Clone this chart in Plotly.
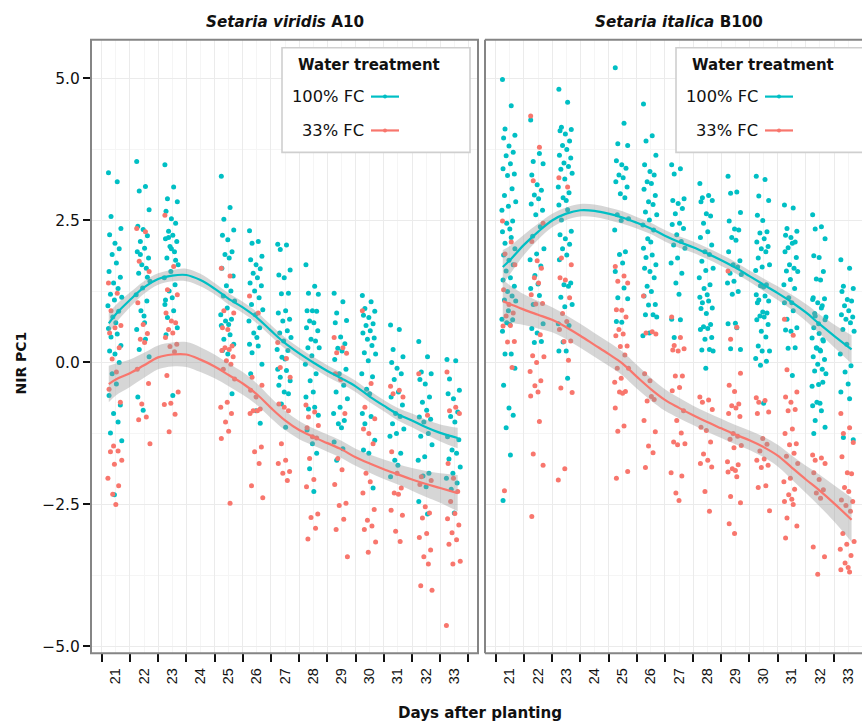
import plotly.graph_objects as go

# ---------------- data ----------------
DAYS = [21, 22, 23, 25, 26, 27, 28, 29, 30, 31, 32, 33]
TICK_DAYS = list(range(21, 35))
TICK_TEXT = [str(d) for d in range(21, 34)] + [""]
Y_TICKS = [-5.0, -2.5, 0.0, 2.5, 5.0]
Y_TICK_TEXT = ["\u22125.0", "\u22122.5", "0.0", "2.5", "5.0"]
# time-of-day fraction at which each plant was imaged (cycled through per day)
IMG_FRAC = [0.24, 0.55, 0.33, 0.68, 0.28, 0.47, 0.62, 0.37, 0.52, 0.26,
            0.66, 0.42, 0.58, 0.31, 0.71, 0.45, 0.22, 0.60, 0.39, 0.50]

# Setaria viridis A10, 100% FC (one list per day in DAYS)
VIR_100 = [
    [3.34, 3.18, 2.57, 2.36, 2.25, 2.1, 2.0, 1.9, 1.75, 1.6, 1.5, 1.4, 1.3, 1.2, 1.15, 1.1, 1.0, 0.9,
     0.8, 0.7, 0.6, 0.5, 0.45, 0.3, 0.2, 0.15, 0.0, -0.2, -0.38, -0.58, -0.75, -0.9, -1.05, -1.24, -1.38, -2.33],
    [3.54, 3.1, 3.02, 2.69, 2.40, 2.34, 2.23, 2.13, 2.01, 1.95, 1.84, 1.72, 1.66, 1.57, 1.43, 1.31, 1.19,
     1.08, 0.91, 0.82, 0.58, 0.41, 0.23, 0.1, -0.61, -0.84, 1.5, 1.9, 0.7],
    [3.48, 3.09, 2.88, 2.83, 2.66, 2.53, 2.45, 2.31, 2.24, 2.18, 2.13, 2.04, 1.95, 1.84, 1.72, 1.6, 1.49,
     1.37, 1.26, 1.14, 1.02, 0.91, 0.79, 0.61, 0.49, 2.0, 1.8, 2.2, -0.58, 1.1],
    [3.28, 2.73, 2.52, 2.33, 2.24, 2.16, 1.95, 1.9, 1.84, 1.66, 1.52, 1.35, 1.26, 1.17, 1.08, 0.96, 0.84,
     0.76, 0.73, 0.67, 0.65, 0.49, 0.41, 0.32, 0.21, 0.15, -0.55],
    [2.32, 2.13, 2.1, 1.87, 1.81, 1.72, 1.65, 1.57, 1.49, 1.40, 1.35, 1.26, 1.14, 1.02, 0.93, 0.84, 0.73,
     0.61, 0.52, 0.44, 0.32, 0.29, 0.17, -0.03, -0.2, -0.85, -1.07],
    [2.08, 2.07, 1.99, 1.63, 1.54, 1.49, 1.22, 1.21, 0.91, 0.87, 0.76, 0.73, 0.56, 0.52, 0.44, 0.38, 0.23,
     0.21, 0.09, 0.06, -0.12, -0.14, -0.26, -0.32, -0.4, -0.52, -0.55, -0.73, -1.14],
    [1.72, 1.34, 1.22, 1.2, 0.91, 0.91, 0.9, 0.73, 0.70, 0.61, 0.56, 0.41, 0.38, 0.26, 0.26, 0.12, -0.03,
     -0.2, -0.32, -0.52, -0.61, -0.79, -0.82, -0.93, -1.19, -1.43, -1.6, -1.87, -2.27],
    [1.22, 1.07, 0.87, 0.74, 0.70, 0.45, 0.33, 0.25, 0.2, 0.05, -0.12, -0.2, -0.4, -0.52, -0.64, -0.79,
     -0.9, -1.02, -1.08, -1.15, -1.4, -1.52, -1.72],
    [1.18, 1.07, 0.95, 0.9, 0.83, 0.79, 0.68, 0.65, 0.56, 0.52, 0.43, 0.41, 0.3, 0.17, 0.15, 0.03, -0.2,
     -0.25, -0.47, -0.55, -0.9, -0.95, -1.08, -1.37, -1.54, -1.6, -2.21],
    [0.66, 0.58, 0.23, 0.1, 0.0, -0.1, -0.2, -0.3, -0.52, -0.61, -0.75, -0.9, -0.95, -1.08, -1.17, -1.25,
     -1.3, -1.6, -1.72, -1.81, -2.01],
    [0.37, 0.1, -0.17, -0.2, -0.3, -0.38, -0.61, -0.7, -0.84, -0.96, -1.0, -1.05, -1.25, -1.3, -1.45,
     -1.66, -1.72, -1.95, -2.0, -2.19, -2.45, -2.67],
    [0.05, 0.03, -0.29, -0.49, -0.55, -0.64, -0.87, -0.95, -1.05, -1.31, -1.36, -1.54, -1.6, -1.7, -1.84,
     -1.95, -2.04, -2.12, -2.23, -2.65],
]
# Setaria viridis A10, 33% FC
VIR_33 = [
    [1.40, 1.22, 0.91, 0.65, 0.52, 0.61, 0.26, 0.06, -0.17, -0.47, -0.70, -1.47, -1.56, -1.57, -1.72,
     -1.79, -2.04, -2.17, -2.32, -2.5],
    [2.36, 2.3, 1.78, 1.6, 1.05, 0.67, 0.51, 0.41, 0.35, -0.12, -0.37, -0.73, -0.96, -1.01, -1.43],
    [2.59, 1.69, 1.28, 1.19, 0.87, 0.73, 0.70, 0.58, 0.52, 0.44, 0.32, 0.28, 0.19, -0.23, -0.52, -0.72,
     -0.74, -0.91, -1.22],
    [1.66, 1.52, 0.91, 0.87, 0.61, 0.58, 0.29, 0.26, 0.23, 0.21, 0.1, 0.03, -0.03, -0.12, -0.29, -0.70,
     -0.79, -0.90, -1.05, -1.21, -1.34, -2.48],
    [1.17, 0.87, -0.26, -0.40, -0.49, -0.61, -0.82, -0.85, -0.85, -0.9, -1.49, -1.57, -1.78, -2.17, -2.38],
    [0.35, 0.07, -0.09, -0.26, -0.73, -0.79, -0.85, -1.43, -1.72, -1.78, -1.92, -1.95, -2.08],
    [-0.75, -0.87, -0.96, -1.11, -1.15, -1.31, -1.33, -1.69, -2.06, -2.19, -2.67, -2.73, -2.92, -3.11],
    [0.44, 0.26, 0.17, 0.16, -0.2, -0.3, -0.9, -1.69, -1.89, -2.15, -2.48, -2.52, -2.76, -2.94, -3.42],
    [0.91, -0.37, -0.79, -0.99, -1.17, -1.25, -1.43, -1.95, -2.1, -2.3, -2.59, -2.78, -2.88, -2.94, -3.16, -3.34],
    [-0.42, -0.49, -0.55, -0.61, -1.57, -1.95, -2.21, -2.3, -2.32, -2.6, -2.69, -2.97, -3.15],
    [-0.2, -0.93, -2.01, -2.08, -2.15, -2.54, -2.65, -2.74, -3.01, -3.08, -3.3, -3.42, -3.55, -3.93, -4.01],
    [-0.17, -0.79, -0.85, -0.9, -1.78, -2.04, -2.27, -2.45, -2.66, -2.75, -2.86, -3.0, -3.12, -3.2, -3.5,
     -3.55, -4.63],
]
# Setaria italica B100, 100% FC
ITA_100 = [
    [4.98, 4.52, 4.11, 4.0, 3.95, 3.81, 3.7, 3.64, 3.5, 3.41, 3.32, 3.29, 3.06, 2.94, 2.83, 2.75, 2.68,
     2.49, 2.45, 2.35, 2.3, 2.2, 2.1, 2.0, 1.89, 1.8, 1.72, 1.61, 1.49, 1.45, 1.34, 1.25, 1.17, 1.1, 1.08,
     0.91, 0.76, 0.75, 0.7, 0.67, 0.55, 0.15, 0.15, -0.1, -0.4, -0.8, -0.93, -1.15, -1.63, -2.43],
    [4.27, 3.68, 3.54, 3.5, 3.3, 3.13, 3.03, 2.95, 2.88, 2.79, 2.68, 2.6, 2.39, 2.22, 2.0, 1.91, 1.81, 1.7,
     1.53, 1.38, 1.3, 1.18, 1.02, 0.68, 0.6, 0.52, 0.37, 0.35],
    [4.81, 4.58, 4.14, 4.1, 4.08, 4.02, 3.9, 3.82, 3.75, 3.65, 3.6, 3.51, 3.45, 3.4, 3.33, 3.23, 3.09, 2.99,
     2.9, 2.85, 2.77, 2.69, 2.51, 2.31, 2.25, 2.18, 2.08, 2.0, 1.89, 1.81, 1.4, 1.37, 1.34, 1.15, 1.02,
     0.98, 0.68, 0.65, 0.36, 0.2, 0.2, -0.28],
    [5.19, 4.21, 3.85, 3.82, 3.55, 3.48, 3.42, 3.3, 3.25, 3.18, 3.09, 2.97, 2.9, 2.6, 2.53, 2.5, 2.33, 1.95,
     1.9, 1.75, 1.6, 1.31, 1.14, 1.12, 0.72, 0.71],
    [4.55, 3.99, 3.9, 3.65, 3.48, 3.36, 3.3, 3.18, 3.15, 3.05, 2.94, 2.83, 2.78, 2.65, 2.6, 2.51, 2.42, 2.33,
     2.18, 2.12, 2.01, 1.89, 1.85, 1.72, 1.66, 1.6, 1.49, 1.34, 1.25, 1.17, 1.02, 1.01, 0.84, 0.84, 0.8,
     0.52, 0.47],
    [3.48, 3.41, 3.32, 2.88, 2.85, 2.8, 2.71, 2.62, 2.45, 2.43, 2.36, 2.25, 2.13, 2.07, 2.01, 1.84, 1.75,
     1.57, 1.4, 1.2, 0.76, 0.75, 0.44],
    [3.15, 2.94, 2.9, 2.85, 2.83, 2.62, 2.58, 2.45, 2.3, 2.2, 2.07, 1.95, 1.9, 1.78, 1.66, 1.62, 1.49, 1.37,
     1.3, 1.19, 1.15, 1.08, 1.05, 0.96, 0.95, 0.86, 0.67, 0.63, 0.6, 0.58, 0.44, 0.41, 0.23, 0.22, 0.2, -0.1],
    [3.28, 3.0, 2.98, 2.64, 2.49, 2.35, 2.33, 2.2, 2.15, 1.95, 1.79, 1.72, 1.68, 1.57, 1.55, 1.43, 1.4,
     1.25, 1.2, 0.69, 0.68, 0.61, 0.24, 0.23],
    [3.28, 3.22, 2.93, 2.85, 2.59, 2.5, 2.3, 2.28, 2.18, 2.12, 2.04, 2.0, 1.95, 1.84, 1.72, 1.68, 1.62, 1.37,
     1.35, 1.33, 1.19, 1.17, 1.1, 1.08, 1.05, 0.89, 0.87, 0.82, 0.8, 0.75, 0.67, 0.55, 0.45, 0.29, 0.2, 0.2,
     0.07, 0.02, -0.05, -0.72],
    [2.77, 2.72, 2.36, 2.31, 2.24, 2.2, 2.12, 2.02, 2.1, 1.95, 1.85, 1.72, 1.66, 1.61, 1.6, 1.46, 1.37, 1.30,
     1.14, 1.05, 1.05, 0.91, 0.76, 0.61, 0.57, 0.55, 0.26, 0.25, -0.23],
    [2.6, 2.39, 2.35, 2.18, 1.88, 1.85, 1.6, 1.47, 1.45, 1.14, 1.12, 1.05, 1.0, 0.86, 0.8, 0.68, 0.43, 0.4,
     0.25, 0.22, 1.11, 0.96, 0.82, 0.75, 0.61, 0.51, 0.38, 0.26, 0.2, 0.1, 0.05, -0.03, -0.12, -0.15, -0.2,
     -0.39, -0.42, -0.35, -0.7, -0.72, -0.76, -0.85, -1.02, -1.14, -1.25],
    [1.81, 1.66, 1.34, 1.3, 1.25, 1.11, 1.08, 1.0, 0.91, 0.84, 0.8, 0.76, 0.70, 0.58, 0.55, 0.32, 0.15,
     -0.06, -0.17, -0.38, -0.52, -0.64, -1.32, -1.36],
]
# Setaria italica B100, 33% FC
ITA_33 = [
    [2.49, 2.12, 1.91, 1.72, 1.28, 1.02, 0.87, 0.82, 0.65, 0.64, 0.37, 0.36, -0.09, -2.26],
    [4.34, 3.79, 3.2, 2.45, 2.13, 1.79, 1.66, 1.49, 1.4, 1.19, 1.04, 1.03, 0.49, 0.12, 0.1, 0.0, -0.16,
     -0.32, -0.41, -0.52, -0.59, -1.04, -1.61, -1.81, -2.71],
    [3.25, 3.09, 1.84, 1.72, 1.49, 1.45, 1.14, 0.86, 0.72, 0.58, 0.38, 0.37, 0.04, -0.45, -0.53, -1.87, -2.07],
    [1.69, 1.52, 1.43, 1.4, 0.93, 0.92, 0.80, 0.58, 0.5, 0.47, 0.29, 0.28, 0.13, -0.1, -0.1, -0.28, -0.35,
     -0.51, -0.52, -0.54, -0.8, -1.12, -1.21, -1.92, -2.04],
    [1.17, 0.54, 0.52, 0.5, -0.2, -0.32, -0.65, -0.68, -0.6, -1.02, -1.22, -1.47, -1.59, -1.85],
    [0.8, 0.44, 0.3, 0.24, 0.22, 0.2, -0.24, -0.24, -0.44, -0.5, -0.85, -1.02, -1.24, -1.4, -1.43, -1.45,
     -1.94, -2.0, -2.3, -2.43],
    [-0.61, -0.66, -0.7, -0.83, -1.14, -1.2, -1.40, -1.61, -1.72, -1.78, -1.84, -2.27, -2.62],
    [1.61, 0.62, 0.41, -0.19, -0.4, -0.51, -0.73, -0.76, -0.8, -0.9, -0.95, -1.25, -1.3, -1.35, -1.46, -1.5,
     -1.75, -1.8, -1.87, -1.9, -1.93, -2.01, -2.36, -2.47, -2.84, -3.01],
    [-0.62, -0.67, -0.7, -0.87, -0.9, -1.34, -1.44, -1.56, -1.70, -1.72, -1.81, -1.85, -2.17, -2.2, -2.61],
    [0.76, 0.48, -0.13, -0.52, -0.61, -0.7, -0.83, -0.85, -1.17, -1.25, -1.43, -1.45, -1.6, -1.65, -1.78,
     -2.04, -2.10, -2.23, -2.33, -2.41, -2.45, -2.5, -2.74, -2.88, -3.09],
    [-1.63, -1.68, -1.72, -1.78, -1.94, -2.06, -2.24, -2.3, -2.39, -3.25, -3.42, -3.73],
    [-0.9, -1.15, -1.25, -1.41, -1.66, -1.94, -1.96, -2.2, -2.27, -2.42, -2.45, -2.52, -2.62, -3.01, -3.15,
     -3.2, -3.29, -3.4, -3.53, -3.61, -3.65, -3.69],
]

# loess fits (value and half-width of the confidence band)
SMOOTH_X = [21.25, 21.5, 22, 22.5, 23, 23.5, 24, 24.5, 25, 25.5, 26, 26.5, 27, 27.5, 28, 28.5,
            29, 29.5, 30, 30.5, 31, 31.5, 32, 32.5, 33, 33.62]
VIR_100_FIT = [0.69, 0.85, 1.10, 1.32, 1.47, 1.53, 1.54, 1.45, 1.30, 1.12, 0.97, 0.79, 0.56, 0.34, 0.16,
               0.0, -0.15, -0.28, -0.42, -0.60, -0.76, -0.91, -1.02, -1.14, -1.24, -1.33]
VIR_100_SE = [0.18, 0.16, 0.13, 0.11, 0.10, 0.10, 0.11, 0.11, 0.10, 0.10, 0.10, 0.10, 0.10, 0.10, 0.10,
              0.10, 0.10, 0.10, 0.10, 0.10, 0.10, 0.11, 0.12, 0.13, 0.15, 0.18]
VIR_33_FIT = [-0.38, -0.30, -0.19, -0.05, 0.09, 0.14, 0.14, 0.05, -0.07, -0.22, -0.37, -0.56, -0.80, -1.02,
              -1.19, -1.31, -1.42, -1.53, -1.67, -1.78, -1.88, -1.97, -2.06, -2.14, -2.21, -2.30]
VIR_33_SE = [0.32, 0.28, 0.24, 0.22, 0.21, 0.21, 0.22, 0.22, 0.21, 0.20, 0.20, 0.19, 0.18, 0.17, 0.16,
             0.15, 0.15, 0.15, 0.15, 0.16, 0.17, 0.18, 0.20, 0.23, 0.26, 0.32]
ITA_100_FIT = [1.68, 1.80, 2.07, 2.30, 2.50, 2.62, 2.68, 2.67, 2.62, 2.55, 2.46, 2.36, 2.23, 2.12, 2.03,
               1.92, 1.80, 1.67, 1.52, 1.37, 1.22, 1.06, 0.88, 0.67, 0.47, 0.23]
ITA_100_SE = [0.30, 0.25, 0.18, 0.14, 0.12, 0.11, 0.11, 0.11, 0.11, 0.11, 0.10, 0.10, 0.10, 0.10, 0.10,
              0.10, 0.10, 0.10, 0.10, 0.11, 0.12, 0.13, 0.15, 0.17, 0.20, 0.25]
ITA_33_FIT = [1.08, 1.03, 0.93, 0.84, 0.75, 0.62, 0.47, 0.31, 0.15, -0.02, -0.25, -0.47, -0.66, -0.80, -0.93,
              -1.05, -1.16, -1.27, -1.37, -1.49, -1.64, -1.85, -2.06, -2.26, -2.48, -2.77]
ITA_33_SE = [0.38, 0.33, 0.27, 0.24, 0.22, 0.21, 0.21, 0.21, 0.21, 0.21, 0.21, 0.20, 0.19, 0.18, 0.17,
             0.17, 0.17, 0.17, 0.17, 0.18, 0.19, 0.21, 0.24, 0.28, 0.32, 0.39]

PANELS = ["<b><i>Setaria viridis</i> A10</b>", "<b><i>Setaria italica</i> B100</b>"]
GROUPS = ["100% FC", "33% FC"]
COLORS = {"100% FC": "#00BFC4", "33% FC": "#F8766D"}

# ---------------- figure ----------------
W, H = 862, 726
FONT = "DejaVu Sans, Liberation Sans, Arial, sans-serif"
FONT_NARROW = "Liberation Sans, Arial, Helvetica, sans-serif"
PX = lambda x: x / W
PY = lambda y: 1 - y / H
P_TOP, P_BOT = 40, 656
DOMS = [(91, 478), (485, 862)]
XRANGES = [[20.62, 34.34], [20.62, 33.99]]

fig = go.Figure()


def expand(days, lists):
    xs, ys = [], []
    for d, vals in zip(days, lists):
        for i, v in enumerate(vals):
            xs.append(d + IMG_FRAC[i % len(IMG_FRAC)])
            ys.append(v)
    return xs, ys


series = [
    (0, VIR_100, VIR_33, (VIR_100_FIT, VIR_100_SE), (VIR_33_FIT, VIR_33_SE)),
    (1, ITA_100, ITA_33, (ITA_100_FIT, ITA_100_SE), (ITA_33_FIT, ITA_33_SE)),
]
for p, d100, d33, f100, f33 in series:
    xa = "x" if p == 0 else "x2"
    ya = "y" if p == 0 else "y2"
    for g, data in (("100% FC", d100), ("33% FC", d33)):
        xs, ys = expand(DAYS, data)
        fig.add_trace(go.Scatter(x=xs, y=ys, mode="markers", xaxis=xa, yaxis=ya,
                                 marker=dict(size=5, color=COLORS[g], line=dict(width=0)),
                                 showlegend=False, hoverinfo="skip"))
    for g, (fit, se) in (("100% FC", f100), ("33% FC", f33)):
        lo = [f - s for f, s in zip(fit, se)]
        hi = [f + s for f, s in zip(fit, se)]
        fig.add_trace(go.Scatter(x=SMOOTH_X, y=lo, mode="lines", xaxis=xa, yaxis=ya,
                                 line=dict(width=0, shape="spline"), showlegend=False, hoverinfo="skip"))
        fig.add_trace(go.Scatter(x=SMOOTH_X, y=hi, mode="lines", xaxis=xa, yaxis=ya, fill="tonexty",
                                 fillcolor="rgba(153,153,153,0.4)",
                                 line=dict(width=0, shape="spline"), showlegend=False, hoverinfo="skip"))
    for g, (fit, se) in (("100% FC", f100), ("33% FC", f33)):
        fig.add_trace(go.Scatter(x=SMOOTH_X, y=fit, mode="lines", xaxis=xa, yaxis=ya,
                                 line=dict(width=2.2, color=COLORS[g], shape="spline"),
                                 showlegend=False, hoverinfo="skip"))

xcommon = dict(tickmode="array", tickvals=TICK_DAYS, ticktext=TICK_TEXT, tickangle=-90,
               ticks="outside", ticklen=8, tickwidth=2, tickcolor="#111",
               ticklabelshift=14, showgrid=True, gridcolor="#ebebeb", gridwidth=1.1,
               minor=dict(dtick=0.5, tick0=20.5, showgrid=True, gridcolor="#f5f5f5", gridwidth=1),
               zeroline=False, showline=False,
               tickfont=dict(family=FONT_NARROW, size=14.5, color="#111"))
ycommon = dict(range=[-5.12, 5.68], tickmode="array", tickvals=Y_TICKS, ticktext=Y_TICK_TEXT,
               showgrid=True, gridcolor="#ebebeb", gridwidth=1.1,
               minor=dict(dtick=1.25, tick0=-5, showgrid=True, gridcolor="#f5f5f5", gridwidth=1),
               zeroline=False, showline=False,
               domain=[PY(P_BOT), PY(P_TOP)])

fig.update_layout(
    width=W, height=H, margin=dict(l=0, r=0, t=0, b=0),
    paper_bgcolor="white", plot_bgcolor="white", showlegend=False,
    font=dict(family=FONT, color="#111"),
    xaxis=dict(xcommon, domain=[PX(DOMS[0][0]), PX(DOMS[0][1])], range=XRANGES[0], anchor="y"),
    xaxis2=dict(xcommon, domain=[PX(DOMS[1][0]), 1.0], range=XRANGES[1], anchor="y2"),
    yaxis=dict(ycommon, anchor="x", ticks="outside", ticklen=7, tickwidth=2, tickcolor="#111",
               tickfont=dict(family=FONT, size=15.5, color="#111")),
    yaxis2=dict(ycommon, anchor="x2", matches="y", showticklabels=False, ticks=""),
)

shapes = []
border = dict(color="#858585", width=2)
# left panel border
shapes.append(dict(type="rect", xref="paper", yref="paper", x0=PX(DOMS[0][0]), x1=PX(DOMS[0][1]),
                   y0=PY(P_BOT), y1=PY(P_TOP), line=border, layer="above"))
# right panel border (clipped by the image edge on the right)
for (x0, y0, x1, y1) in [(DOMS[1][0], P_TOP, DOMS[1][0], P_BOT), (DOMS[1][0], P_TOP, 870, P_TOP),
                         (DOMS[1][0], P_BOT, 870, P_BOT)]:
    shapes.append(dict(type="line", xref="paper", yref="paper", x0=PX(x0), x1=PX(x1),
                       y0=PY(y0), y1=PY(y1), line=border, layer="above"))

annotations = []
# facet titles
for p, title in enumerate(PANELS):
    cx = (DOMS[p][0] + (DOMS[p][1] if p == 0 else 872)) / 2
    annotations.append(dict(text=title, x=PX(cx), y=PY(22), xref="paper", yref="paper",
                            showarrow=False, font=dict(family=FONT, size=15.2, color="#111"),
                            xanchor="center", yanchor="middle"))

# legends drawn inside each panel
for p in range(2):
    left = DOMS[p][0] + 191
    shapes.append(dict(type="rect", xref="paper", yref="paper", x0=PX(left), x1=PX(left + 188),
                       y0=PY(153), y1=PY(48), line=dict(color="#cfcfcf", width=1.6),
                       fillcolor="white", layer="above"))
    annotations.append(dict(text="<b>Water treatment</b>", x=PX(left + 14), y=PY(65), xref="paper",
                            yref="paper", showarrow=False, xanchor="left", yanchor="middle",
                            font=dict(family=FONT, size=15, color="#111")))
    for k, g in enumerate(GROUPS):
        yy = 97 + 34 * k
        annotations.append(dict(text=g, x=PX(left + 84), y=PY(yy), xref="paper", yref="paper",
                                showarrow=False, xanchor="right", yanchor="middle",
                                font=dict(family=FONT, size=16.3, color="#111")))
        shapes.append(dict(type="line", xref="paper", yref="paper", x0=PX(left + 89), x1=PX(left + 117),
                           y0=PY(yy), y1=PY(yy), line=dict(color=COLORS[g], width=2.2), layer="above"))
        shapes.append(dict(type="circle", xref="paper", yref="paper", x0=PX(left + 101), x1=PX(left + 105),
                           y0=PY(yy + 2), y1=PY(yy - 2), line=dict(width=0), fillcolor=COLORS[g],
                           layer="above"))

# axis titles
annotations.append(dict(text="<b>Days after planting</b>", x=PX(480), y=PY(716), xref="paper",
                        yref="paper", showarrow=False, xanchor="center", yanchor="middle",
                        font=dict(family=FONT, size=15.1, color="#111")))
annotations.append(dict(text="<b>NIR PC1</b>", x=PX(21), y=PY(365), xref="paper", yref="paper",
                        showarrow=False, textangle=-90, xanchor="center", yanchor="middle",
                        font=dict(family=FONT, size=14, color="#111")))

fig.update_layout(shapes=shapes, annotations=annotations)
fig.write_html("out.html")
